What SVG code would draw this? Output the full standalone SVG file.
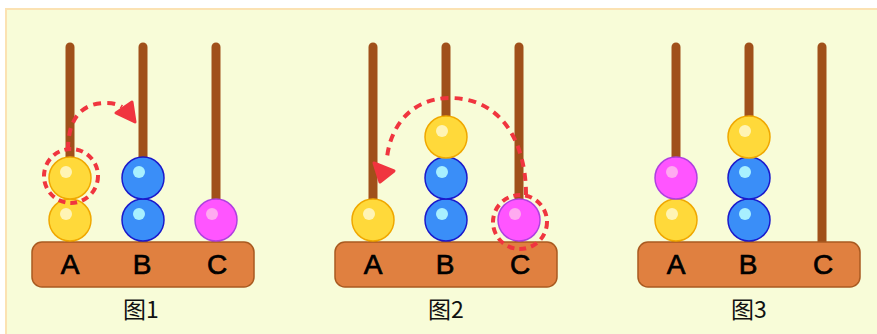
<svg xmlns="http://www.w3.org/2000/svg" width="877" height="334" viewBox="0 0 877 334">
  <style>
    .rod { stroke: #A0501A; stroke-width: 9; stroke-linecap: round; fill: none; }
    .base { fill: #E08040; stroke: #A95A20; stroke-width: 1.5; }
    .lbl { font-family: "Liberation Sans", Arial, sans-serif; font-size: 28px; fill: #000; stroke: #000; stroke-width: 0.7; text-anchor: middle; }
    .cap { font-family: "Noto Sans CJK SC", "Liberation Sans", sans-serif; font-size: 23px; fill: #111; text-anchor: middle; }
    .y { fill: #FFD93A; stroke: #F0A800; stroke-width: 1.5; }
    .yh { fill: #FFF4B5; }
    .b { fill: #3A8EF8; stroke: #1A1ACC; stroke-width: 1.5; }
    .bh { fill: #A8F0FF; }
    .m { fill: #FF55FF; stroke: #B040E0; stroke-width: 1.5; }
    .mh { fill: #FFAAF0; }
    .sel { fill: none; stroke: #F0353F; stroke-width: 4; stroke-dasharray: 7 5; }
    .mv { fill: none; stroke: #F0353F; stroke-width: 4; stroke-dasharray: 8 6; }
    .head { fill: #F0353F; stroke: #F0353F; stroke-width: 3; stroke-linejoin: round; }
  </style>
  <defs>
    <!-- abacus frame: three rods and the lettered base -->
    <g id="frame">
      <line class="rod" x1="70" y1="47" x2="70" y2="242"/>
      <line class="rod" x1="143" y1="47" x2="143" y2="242"/>
      <line class="rod" x1="216" y1="47" x2="216" y2="242"/>
      <rect class="base" x="32" y="242" width="222" height="45" rx="10"/>
      <text class="lbl" x="70" y="274">A</text>
      <text class="lbl" x="142" y="274">B</text>
      <text class="lbl" x="217" y="274">C</text>
    </g>
    <g id="beadY"><circle class="y" r="21"/><circle class="yh" cx="-4" cy="-6" r="6"/></g>
    <g id="beadB"><circle class="b" r="21"/><circle class="bh" cx="-4" cy="-6" r="6"/></g>
    <g id="beadM"><circle class="m" r="21"/><circle class="mh" cx="-4" cy="-6" r="6"/></g>
  </defs>

  <!-- panel -->
  <rect x="6" y="9" width="880" height="340" fill="#F8FCD8" stroke="#FBE2B2" stroke-width="2"/>

  <!-- figure 1 -->
  <g id="fig1">
    <use href="#frame"/>
    <use href="#beadY" x="70" y="220"/>
    <use href="#beadY" x="70" y="178"/>
    <use href="#beadB" x="143" y="220"/>
    <use href="#beadB" x="143" y="178"/>
    <use href="#beadM" x="216" y="220"/>
    <text class="cap" x="141" y="318">图1</text>
  </g>

  <!-- figure 2 -->
  <g id="fig2" transform="translate(303,0)">
    <use href="#frame"/>
    <use href="#beadY" x="70" y="220"/>
    <use href="#beadB" x="143" y="220"/>
    <use href="#beadB" x="143" y="178"/>
    <use href="#beadY" x="143" y="137"/>
    <use href="#beadM" x="216" y="220"/>
    <text class="cap" x="143" y="318">图2</text>
  </g>

  <!-- figure 3 -->
  <g id="fig3" transform="translate(606,0)">
    <use href="#frame"/>
    <use href="#beadY" x="70" y="220"/>
    <use href="#beadM" x="70" y="178"/>
    <use href="#beadB" x="143" y="220"/>
    <use href="#beadB" x="143" y="178"/>
    <use href="#beadY" x="143" y="137"/>
    <text class="cap" x="143" y="318">图3</text>
  </g>

  <!-- move markers -->
  <g id="connectors">
    <circle class="sel" cx="71" cy="176" r="27"/>
    <path class="mv" d="M68,150 C68,118 82,103 106,103 C114,103 119,105 122,107"/>
    <polygon class="head" points="116,113 132,102 135,122"/>

    <circle class="sel" cx="520" cy="222" r="27"/>
    <path class="mv" d="M526,195 C526,140 500,98 450,98 C410,98 390,128 387,158"/>
    <polygon class="head" points="374,163 394,171 380,182"/>
  </g>
</svg>
